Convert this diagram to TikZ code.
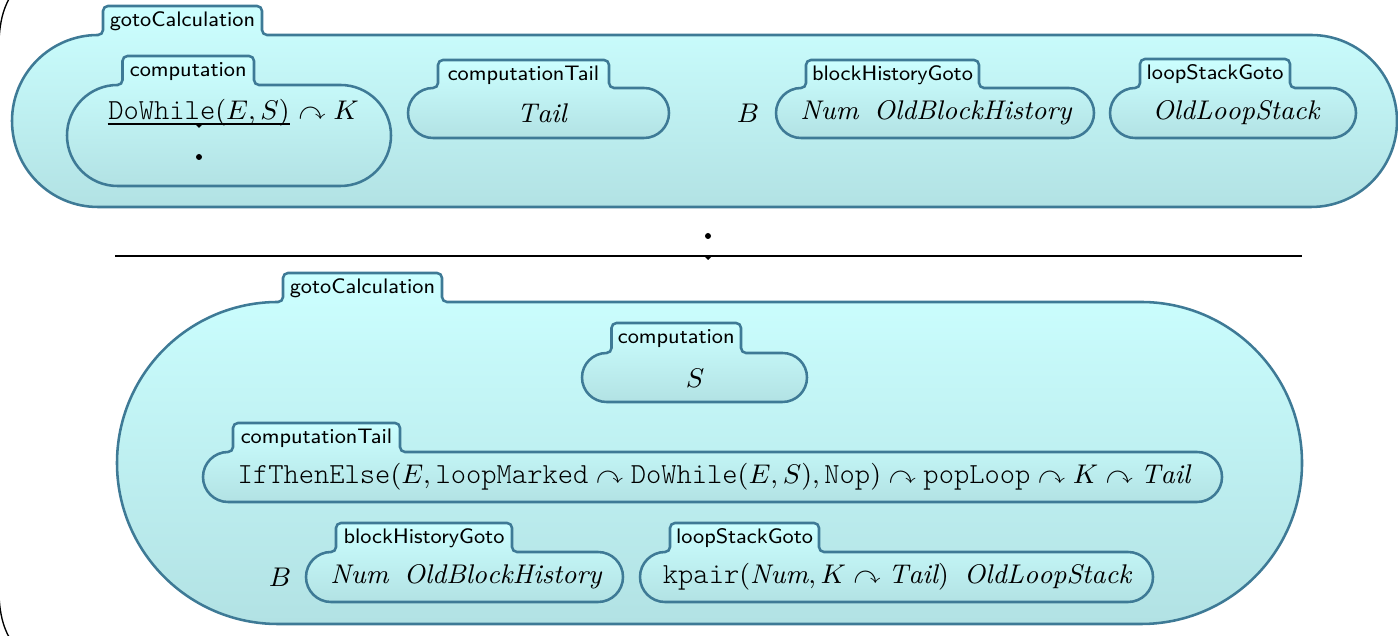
\documentclass[tikz,border=0pt]{standalone}
\usepackage{amssymb}
\usepackage{fontspec}
\setmonofont{Latin Modern Mono Light}
\usetikzlibrary{calc}
\definecolor{ktop}{RGB}{204,255,255}
\definecolor{kbot}{RGB}{178,226,228}
\definecolor{kborder}{RGB}{62,122,150}
\tikzset{
  kcellstyle/.style={draw=kborder, line width=0.85pt, top color=ktop, bottom color=kbot},
  klabel/.style={inner sep=0pt, font=\sffamily\scriptsize},
  kterm/.style={inner sep=0pt, font=\fontsize{9}{11}\selectfont},
  kdot/.style={circle, fill=black, inner sep=0pt, minimum size=2pt},
  kbar/.style={line width=0.4pt, black},
}
% typewriter constructor names
\newcommand\kt[1]{\mbox{\fontsize{9.7}{11}\selectfont\ttfamily #1}}
% cell: name, x1, y1, x2, y2 (body, image coordinates), tab right, tab top, label
\newcommand\kcell[8]{%
  \pgfmathsetmacro\kr{(#5-#3)/2}%
  \pgfmathsetmacro\ktl{#2+\kr+5}%
  \path[kcellstyle] (#2+\kr,-#5) arc[start angle=270,end angle=90,radius=\kr]
    -- (\ktl-5,-#3) arc[start angle=270,end angle=360,radius=5]
    -- (\ktl,-#7-5) arc[start angle=180,end angle=90,radius=5]
    -- (#6-5,-#7) arc[start angle=90,end angle=0,radius=5]
    -- (#6,-#3+5) arc[start angle=180,end angle=270,radius=5]
    -- (#4-\kr,-#3) arc[start angle=90,end angle=-90,radius=\kr] -- cycle;
  \node[klabel] (#1) at ({(\ktl+#6)/2},{-(#7+#3)/2-1}) {#8};
}
% small downward wedge under a rewrite bar
\newcommand\kwedge[1]{\fill ($(#1)+(-4,0)$) -- ($(#1)+(4,0)$) -- ($(#1)+(0,-4)$) -- cycle;}
\begin{document}
\begin{tikzpicture}[x=0.33333pt,y=0.33333pt]
\useasboundingbox (0,0) rectangle (1398,-636);

% enclosing parenthesis
\draw[line width=0.45pt] (9,1) .. controls (3,-10) and (0,-22) .. (-1,-40)
  -- (-1,-596) .. controls (0,-614) and (3,-626) .. (9,-637);

% ---------- upper configuration ----------
\kcell{gcA}{12}{35}{1397}{207}{262}{6}{gotoCalculation}
\kcell{compA}{67}{85}{391}{186}{254}{56}{computation}
\kcell{tailA}{408}{88}{669}{138}{609}{60}{computationTail}
\kcell{bhA}{776}{88}{1094}{138}{979}{60}{blockHistoryGoto}
\kcell{lsA}{1110}{88}{1356}{138}{1290}{59}{loopStackGoto}

\node[kterm] (lhsA) at (199,-113) {$\kt{DoWhile}(E,S)$};
\node[kterm, anchor=base west] (restA) at (lhsA.base east) {${}\curvearrowright K$};
\coordinate (barAl) at ($(lhsA.west)+(0,-11)$);
\coordinate (barAr) at ($(lhsA.east)+(0,-11)$);
\draw[kbar] (barAl) -- (barAr);
\coordinate (wedgeA) at ($(barAl)!0.5!(barAr)$);
\kwedge{wedgeA}
\node[kdot] (dotA) at (199,-157) {};

\node[kterm] (tailAt) at (542,-113) {$\mathit{Tail}$};
\node[kterm] (bA) at (748,-113) {$B$};
\node[kterm] (bhAt) at (936,-113) {$\mathit{Num}\;\;\mathit{OldBlockHistory}$};
\node[kterm] (lsAt) at (1236,-113) {$\mathit{OldLoopStack}$};

% ---------- rewrite ----------
\node[kdot] (dotTop) at (708,-236) {};
\coordinate (barL) at (115,-256);
\coordinate (barR) at (1302,-256);
\draw[kbar] (barL) -- (barR);
\coordinate (wedgeTop) at (708,-256);
\kwedge{wedgeTop}

% ---------- lower configuration ----------
\kcell{gcB}{117}{302}{1302}{624}{442}{273}{gotoCalculation}
\kcell{compB}{582}{353}{807}{402}{741}{323}{computation}
\kcell{tailB}{203}{452}{1222}{502}{400}{423}{computationTail}
\kcell{bhB}{306}{552}{623}{602}{512}{523}{blockHistoryGoto}
\kcell{lsB}{640}{552}{1153}{602}{819}{523}{loopStackGoto}

\node[kterm] (compBt) at (695,-378) {$S$};
\node[kterm] (tailBt) at (714,-477) {$\kt{IfThenElse}(E,\kt{loopMarked}\curvearrowright\kt{DoWhile}(E,S),\kt{Nop})\curvearrowright\kt{popLoop}\curvearrowright K\curvearrowright \mathit{Tail}$};
\node[kterm] (bB) at (280,-577) {$B$};
\node[kterm] (bhBt) at (466,-577) {$\mathit{Num}\;\;\mathit{OldBlockHistory}$};
\node[kterm] (lsBt) at (897,-577) {$\kt{kpair}(\mathit{Num},K\curvearrowright\mathit{Tail})\;\;\mathit{OldLoopStack}$};
\end{tikzpicture}
\end{document}
